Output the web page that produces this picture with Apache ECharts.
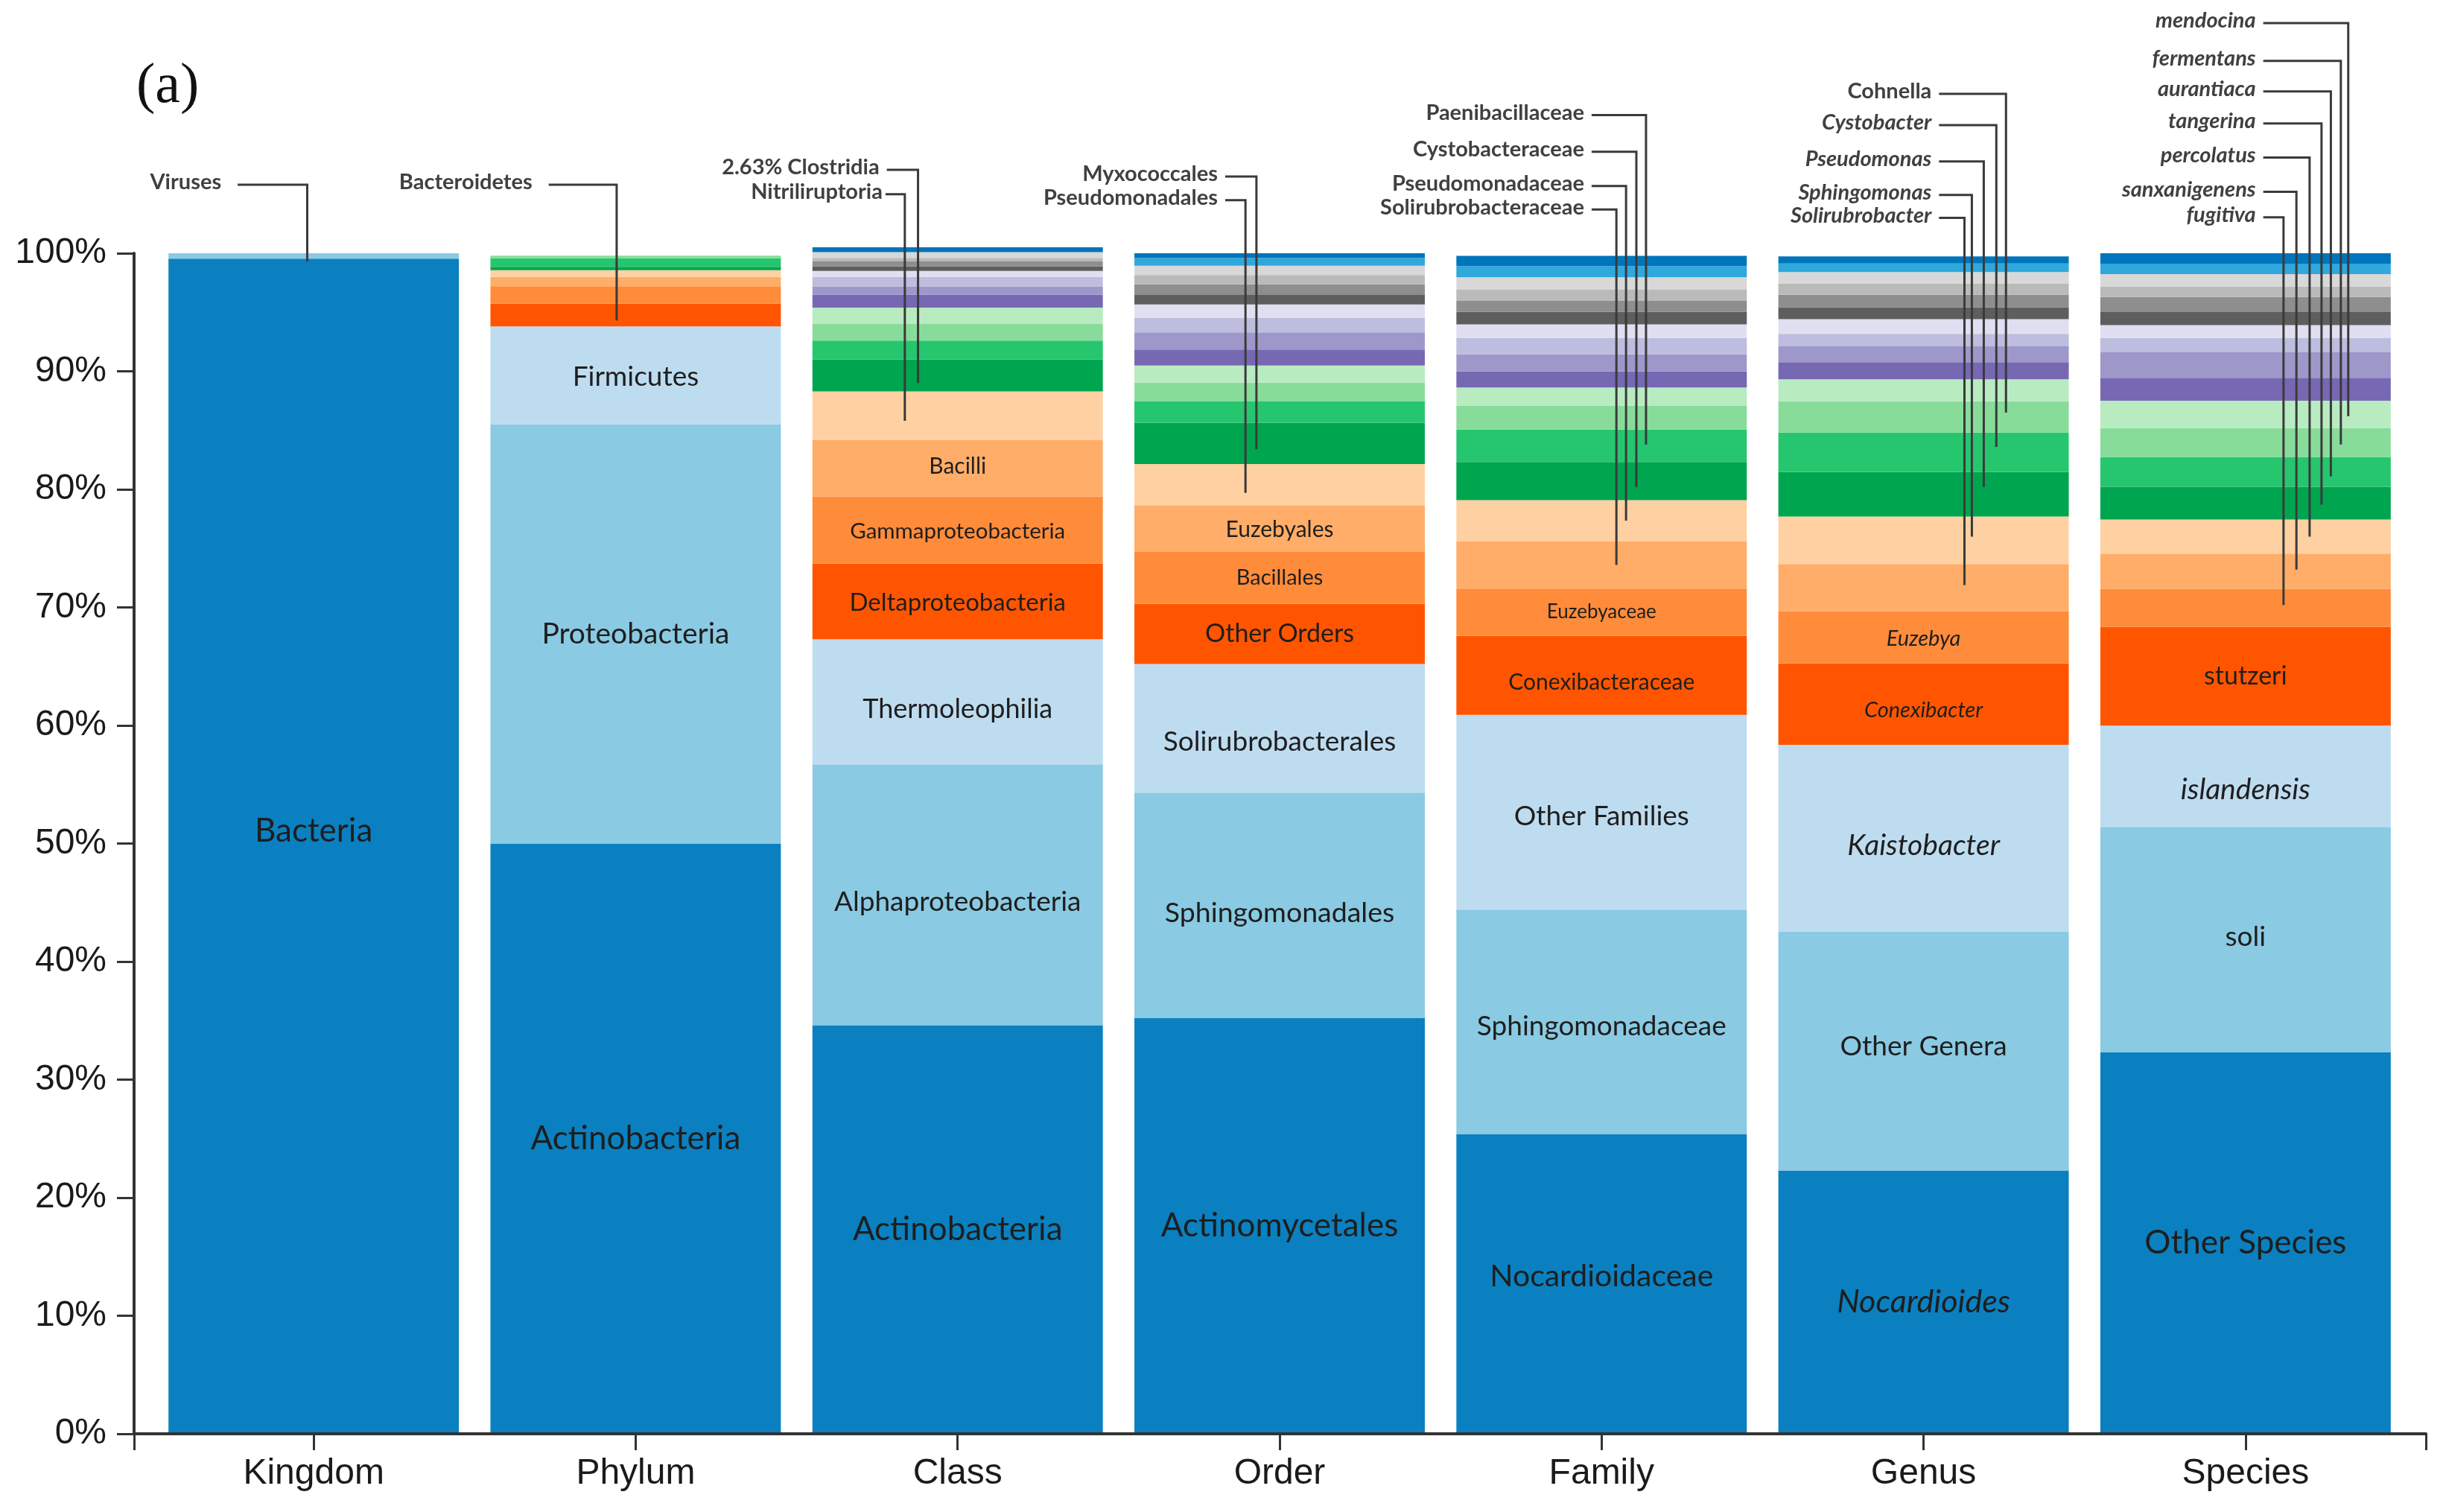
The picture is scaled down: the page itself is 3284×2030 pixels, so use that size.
<!DOCTYPE html>
<html>
<head>
<meta charset="utf-8">
<script src="https://cdn.jsdelivr.net/npm/echarts@6/dist/echarts.min.js"></script>
<style>
html,body{margin:0;padding:0;background:#ffffff;}
#chart{width:3284px;height:2030px;}
</style>
</head>
<body>
<div id="chart"></div>
<script>
// ---------------- DATA ----------------
const categories = ['Kingdom', 'Phylum', 'Class', 'Order', 'Family', 'Genus', 'Species'];

// Relative abundance (%) of each stacked segment, from bottom to top
const kingdomValues = [99.55, 0.45];
const phylumValues  = [50.0, 35.5, 8.3, 1.93, 1.43, 0.84, 0.57, 0.28, 0.73, 0.22];
const classValues   = [34.6, 22.1, 10.6, 6.4, 5.7, 4.8, 4.1, 2.7, 1.6, 1.4, 1.4, 1.1, 0.7, 0.8, 0.5, 0.4, 0.4, 0.3, 0.5, 0, 0.4];
const orderValues   = [35.2, 19.1, 10.9, 5.1, 4.4, 3.96, 3.49, 3.5, 1.8, 1.58, 1.46, 1.35, 1.46, 1.25, 1.12, 0.79, 0.9, 0.79, 0.79, 0.66, 0.4];
const familyValues  = [25.4, 19.0, 16.5, 6.7, 4.0, 3.98, 3.5, 3.24, 2.75, 1.99, 1.57, 1.35, 1.45, 1.37, 1.17, 1.08, 0.92, 0.94, 1.05, 0.95, 0.87];
const genusValues   = [22.3, 20.26, 15.8, 6.9, 4.41, 4.0, 4.02, 3.8, 3.32, 2.65, 1.86, 1.46, 1.33, 1.06, 1.25, 1.01, 1.06, 0.93, 0.98, 0.74, 0.59];
const speciesValues = [32.3, 19.1, 8.58, 8.37, 3.22, 2.99, 2.88, 2.77, 2.53, 2.45, 2.32, 1.94, 2.16, 1.2, 1.1, 1.1, 1.28, 0.9, 1.04, 0.89, 0.88];

// Names written inside the bars (bottom segments)
const kingdomLabels = ['Bacteria'];
const phylumLabels  = ['Actinobacteria', 'Proteobacteria', 'Firmicutes'];
const classLabels   = ['Actinobacteria', 'Alphaproteobacteria', 'Thermoleophilia', 'Deltaproteobacteria', 'Gammaproteobacteria', 'Bacilli'];
const orderLabels   = ['Actinomycetales', 'Sphingomonadales', 'Solirubrobacterales', 'Other Orders', 'Bacillales', 'Euzebyales'];
const familyLabels  = ['Nocardioidaceae', 'Sphingomonadaceae', 'Other Families', 'Conexibacteraceae', 'Euzebyaceae'];
const genusLabels   = ['Nocardioides', 'Other Genera', 'Kaistobacter', 'Conexibacter', 'Euzebya'];
const speciesLabels = ['Other Species', 'soli', 'islandensis', 'stutzeri'];

// Call-out annotations: name, column, value the leader line points at
const calloutNames   = ['Viruses', 'Bacteroidetes', '2.63% Clostridia', 'Nitriliruptoria', 'Myxococcales', 'Pseudomonadales',
  'Paenibacillaceae', 'Cystobacteraceae', 'Pseudomonadaceae', 'Solirubrobacteraceae',
  'Cohnella', 'Cystobacter', 'Pseudomonas', 'Sphingomonas', 'Solirubrobacter',
  'mendocina', 'fermentans', 'aurantiaca', 'tangerina', 'percolatus', 'sanxanigenens', 'fugitiva'];
const calloutColumns = [0, 1, 2, 2, 3, 3, 4, 4, 4, 4, 5, 5, 5, 5, 5, 6, 6, 6, 6, 6, 6, 6];
const calloutTargets = [99.3, 94.3, 89.0, 85.8, 83.4, 79.7, 83.8, 80.2, 77.35, 73.6, 86.5, 83.6, 80.2, 76.0, 71.9, 86.2, 83.8, 81.1, 78.7, 76.0, 73.2, 70.2];

const yTicks = [0, 10, 20, 30, 40, 50, 60, 70, 80, 90, 100];

// ---------------- LAYOUT / STYLE ----------------
const palette = ['#0A80C0', '#8ACAE2', '#BEDCF0',
  '#FF5500', '#FF8C3A', '#FFAD68', '#FFD1A2',
  '#00A550', '#26C66E', '#88DC9A', '#B9EBC1',
  '#7768B4', '#9E97CA', '#BDBDDF', '#DFDFF1',
  '#5E5E5E', '#8E8E8E', '#BABABA', '#D8D8D8',
  '#2FA8DC', '#0075BB'];

const labelSizes = [[44], [44, 39, 37], [44, 37, 36, 33, 29.5, 30], [44, 37.5, 37, 34, 29, 30], [41, 37, 37, 30, 26], [43, 37, 39, 29, 29], [44, 37, 39, 34]];
const labelItalic = [[], [], [], [], [], [true, false, true, true, true], [false, false, true, false]];
const labelShiftY = [[-20], [0, 0, 2], [0, 10, 10, 2, 2, -2], [0, 10, 18, 0, 0, 2], [-10, 6, 6, 10, 0], [0, -6, 10, 8, 2], [0, -4, 18, 0]];

// callout label height (in axis %), horizontal-line start and vertical-line x (fraction of band from center)
const calloutLabelY = [105.8, 105.8, 107.07, 105.0, 106.5, 104.5, 111.7, 108.6, 105.7, 103.7, 113.5, 110.85, 107.77, 104.93, 103.0, 119.5, 116.3, 113.7, 111.0, 108.1, 105.2, 103.05];
const calloutStart  = [-0.236, -0.27, -0.22, -0.224, -0.169, -0.169, -0.031, -0.031, -0.031, -0.031, 0.048, 0.048, 0.048, 0.048, 0.048, 0.055, 0.055, 0.055, 0.055, 0.055, 0.055, 0.055];
const calloutLineX  = [-0.02, -0.059, -0.123, -0.164, -0.072, -0.106, 0.138, 0.108, 0.076, 0.046, 0.256, 0.226, 0.187, 0.15, 0.127, 0.319, 0.296, 0.265, 0.236, 0.199, 0.158, 0.118];
const calloutGap    = [22, 22, 10, 4, 10, 10, 10, 10, 10, 10, 10, 10, 10, 10, 10, 10, 10, 10, 10, 10, 10, 10];
const calloutItalic = [false, false, false, false, false, false, false, false, false, false, false, true, true, true, true, true, true, true, true, true, true, true];

// ---------------- BUILD ----------------
const columnValues = [kingdomValues, phylumValues, classValues, orderValues, familyValues, genusValues, speciesValues];
const columnLabels = [kingdomLabels, phylumLabels, classLabels, orderLabels, familyLabels, genusLabels, speciesLabels];
const nLevels = Math.max.apply(null, columnValues.map(v => v.length));

const barSeries = [];
for (let i = 0; i < nLevels; i++) {
  const data = categories.map((c, ci) => {
    const v = columnValues[ci][i] !== undefined ? columnValues[ci][i] : 0;
    const txt = columnLabels[ci][i];
    if (txt) {
      return {
        value: v,
        label: {
          show: true,
          formatter: txt,
          fontSize: labelSizes[ci][i],
          fontStyle: labelItalic[ci][i] ? 'italic' : 'normal',
          offset: [0, labelShiftY[ci][i] || 0]
        }
      };
    }
    return { value: v };
  });
  barSeries.push({
    type: 'bar',
    name: 'level' + i,
    stack: 'taxa',
    xAxisIndex: 0,
    yAxisIndex: 0,
    barCategoryGap: '9.8%',
    clip: false,
    silent: true,
    itemStyle: { color: palette[i % palette.length] },
    label: { show: false, position: 'inside', color: '#1e1e1e', fontFamily: 'Lato' },
    emphasis: { disabled: true },
    data: data
  });
}

const calloutSeries = {
  type: 'custom',
  xAxisIndex: 0,
  yAxisIndex: 0,
  clip: false,
  silent: true,
  z: 10,
  encode: { x: 0, y: 1 },
  data: calloutNames.map((n, i) => [calloutColumns[i], calloutTargets[i], i]),
  renderItem: function (params, api) {
    const i = api.value(2);
    const col = api.value(0);
    const end = api.coord([col, api.value(1)]);
    const band = api.size([1, 0])[0];
    const yLab = api.coord([col, calloutLabelY[i]])[1];
    const x0 = end[0] + calloutStart[i] * band;
    const x1 = end[0] + calloutLineX[i] * band;
    return {
      type: 'group',
      children: [
        {
          type: 'polyline',
          shape: { points: [[x0, yLab], [x1, yLab], [x1, end[1]]] },
          style: { stroke: '#3a3a3a', lineWidth: 3, fill: null }
        },
        {
          type: 'text',
          style: {
            text: calloutNames[i],
            x: x0 - calloutGap[i],
            y: yLab - 3,
            align: 'right',
            verticalAlign: 'middle',
            fontFamily: 'Lato',
            fontWeight: 'bold',
            fontStyle: calloutItalic[i] ? 'italic' : 'normal',
            fontSize: 29,
            fill: '#404040'
          }
        }
      ]
    };
  }
};

const chart = echarts.init(document.getElementById('chart'), null, { renderer: 'canvas' });
chart.setOption({
  backgroundColor: '#ffffff',
  animation: false,
  title: {
    text: '(a)',
    left: 178,
    top: 74,
    textStyle: { fontFamily: 'Liberation Serif', fontSize: 76, fontWeight: 'normal', color: '#111' }
  },
  grid: [
    { left: 205, right: 53, top: 340, bottom: 105, outerBoundsMode: 'none', containLabel: false },
    { left: 180, right: 27, top: 340, bottom: 105, outerBoundsMode: 'none', containLabel: false }
  ],
  xAxis: [
    {
      type: 'category',
      gridIndex: 0,
      data: categories,
      axisLine: { show: false },
      axisTick: { show: true, alignWithLabel: true, length: 22, lineStyle: { color: '#333', width: 3 } },
      axisLabel: { fontFamily: 'Liberation Sans', fontSize: 48, color: '#1a1a1a', margin: 30 },
      splitLine: { show: false }
    },
    {
      type: 'value',
      gridIndex: 1,
      min: 0,
      max: 1,
      interval: 1,
      z: 10,
      axisLine: { show: true, lineStyle: { color: '#333', width: 4 } },
      axisTick: { show: true, length: 22, lineStyle: { color: '#333', width: 3 } },
      axisLabel: { show: false },
      splitLine: { show: false }
    }
  ],
  yAxis: [
    { type: 'value', gridIndex: 0, min: 0, max: 100, show: false },
    {
      type: 'value',
      gridIndex: 1,
      min: yTicks[0],
      max: yTicks[yTicks.length - 1],
      interval: yTicks[1] - yTicks[0],
      z: 10,
      axisLine: { show: true, lineStyle: { color: '#333', width: 4 } },
      axisTick: { show: true, length: 23, lineStyle: { color: '#333', width: 3 } },
      axisLabel: { formatter: '{value}%', fontFamily: 'Liberation Sans', fontSize: 48, color: '#1a1a1a', margin: 37 },
      splitLine: { show: false }
    }
  ],
  series: barSeries.concat([calloutSeries])
});
</script>
</body>
</html>
